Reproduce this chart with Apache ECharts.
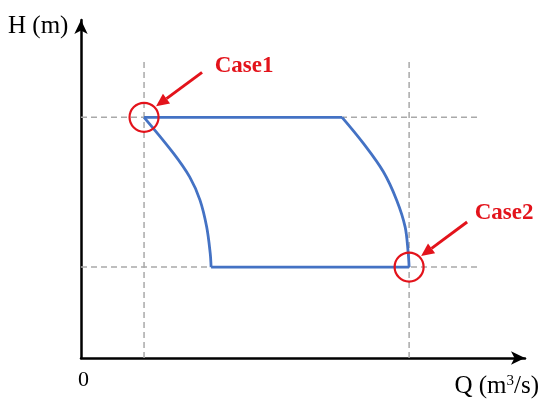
<!DOCTYPE html>
<html>
<head>
<meta charset="utf-8">
<title>H-Q operating range</title>
<script src="https://cdn.jsdelivr.net/npm/echarts@6/dist/echarts.min.js"></script>
<style>
  html, body { margin: 0; padding: 0; background: #fff; }
  #chart { width: 550px; height: 410px; }
</style>
</head>
<body>
<div id="chart"></div>
<script>
// values, axis units 0..100 (no scale on the original)
var caseNames = ['Case1', 'Case2'];
var caseQ = [14.2, 73.9];
var caseH = [71.2, 26.9];

// upper flat line, right curve, lower flat line, left curve
var upperLine = [[14.2, 71.2], [58.8, 71.2]];
var rightCurve = [[58.8, 71.2], [63.6, 63.5], [68.1, 55.1], [71.1, 46.7], [73.0, 38.8], [73.7, 31.0], [73.9, 26.9]];
var lowerLine = [[73.9, 26.9], [29.3, 26.9]];
var leftCurve = [[29.3, 26.9], [29.1, 31.0], [28.3, 38.8], [26.8, 46.7], [24.5, 53.5], [20.8, 60.6], [14.2, 71.2]];

// extents of the dashed guide lines
var guideTop = 88.5;
var guideRight = 89.4;

var serif = "'Liberation Serif', 'Times New Roman', serif";
var red = '#e3131b';
var blue = '#4472c4';

var chart = echarts.init(document.getElementById('chart'));

var guideStyle = { color: '#a9a9a9', width: 1.5, type: [6, 4] };
var series = [];

// dashed guides
caseQ.forEach(function (q) {
  series.push({ type: 'line', data: [[q, 0], [q, guideTop]], symbol: 'none', lineStyle: guideStyle, z: 1, silent: true });
});
caseH.forEach(function (h) {
  series.push({ type: 'line', data: [[0, h], [guideRight, h]], symbol: 'none', lineStyle: guideStyle, z: 1, silent: true });
});

// operating range outline
[[upperLine, false], [rightCurve, 0.35], [lowerLine, false], [leftCurve, 0.35]].forEach(function (p) {
  series.push({
    type: 'line', data: p[0], smooth: p[1], symbol: 'none',
    lineStyle: { color: blue, width: 2.8 }, z: 3
  });
});

// red circles with case labels
series.push({
  type: 'scatter',
  symbol: 'circle',
  symbolSize: 29,
  itemStyle: { color: 'rgba(0,0,0,0)', borderColor: red, borderWidth: 2.2, opacity: 1 },
  data: caseNames.map(function (n, i) {
    return {
      name: n,
      value: [caseQ[i], caseH[i]],
      label: {
        show: true, position: 'inside', formatter: n,
        offset: i === 0 ? [100, -51] : [95, -54],
        color: red, fontFamily: serif, fontWeight: 'bold', fontSize: 23
      }
    };
  }),
  z: 5
});

chart.setOption({
  animation: false,
  grid: { left: 81, right: 25, top: 20, bottom: 52 },
  xAxis: {
    type: 'value', min: 0, max: 100, interval: 100,
    axisLine: { lineStyle: { color: '#000', width: 2.5 }, symbol: ['none', 'arrow'], symbolSize: [10, 14] },
    axisTick: { show: false },
    splitLine: { show: false },
    axisLabel: {
      margin: 11, showMaxLabel: false,
      formatter: function (v) { return v === 0 ? '0' : ''; },
      color: '#000', fontFamily: serif, fontSize: 22, padding: [0, 0, 0, 5]
    }
  },
  yAxis: {
    type: 'value', min: 0, max: 100,
    axisLine: { show: true, lineStyle: { color: '#000', width: 2.5 }, symbol: ['none', 'arrow'], symbolSize: [10, 14] },
    axisTick: { show: false },
    splitLine: { show: false },
    axisLabel: { show: false }
  },
  series: series
});

// arrows pointing at the circles, plus the axis names
function arrow(i) {
  var p = chart.convertToPixel({ gridIndex: 0 }, [caseQ[i], caseH[i]]);
  var sx = p[0] + 58, sy = p[1] - 45;
  var tx = p[0] + 12, ty = p[1] - 11;
  var ang = Math.atan2(ty - sy, tx - sx);
  var len = 13, hw = 6;
  var bx = tx - len * Math.cos(ang), by = ty - len * Math.sin(ang);
  var nx = -Math.sin(ang) * hw, ny = Math.cos(ang) * hw;
  return [
    { type: 'line', shape: { x1: sx, y1: sy, x2: bx, y2: by }, style: { stroke: red, lineWidth: 3 } },
    { type: 'polygon', shape: { points: [[tx, ty], [bx + nx, by + ny], [bx - nx, by - ny]] }, style: { fill: red } }
  ];
}

var graphics = arrow(0).concat(arrow(1));
graphics.push({
  type: 'text', left: 8, top: 14,
  style: { text: 'H (m)', fill: '#000', font: '25px ' + serif }
});
graphics.push({
  type: 'text', right: 11, top: 374,
  style: {
    text: 'Q (m{sup|3}/s)', fill: '#000', font: '25px ' + serif,
    rich: { sup: { fontSize: 15, fontFamily: serif, verticalAlign: 'top', padding: [0, 0, 10, 0], fill: '#000' } }
  }
});
chart.setOption({ graphic: graphics });
</script>
</body>
</html>
